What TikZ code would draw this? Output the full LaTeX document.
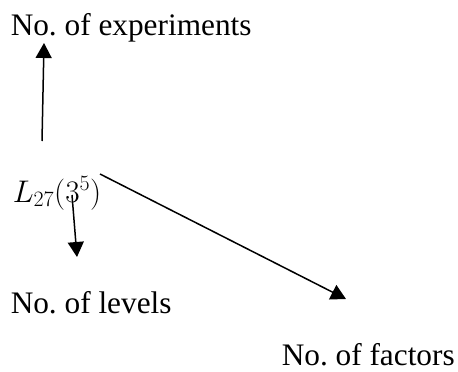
\documentclass[tikz,border=0pt]{standalone}
\usepackage{fix-cm}
\usepackage{fontspec}
\setmainfont{Liberation Serif}
\usetikzlibrary{arrows.meta}
\frenchspacing

\begin{document}
\begin{tikzpicture}[x=1pt, y=-1pt, line width=1.5pt,
    lbl/.style={anchor=base west, inner sep=0pt, font=\fontsize{31.3}{37}\selectfont},
    arr/.style={-{Triangle[length=15pt, width=16pt]}}]
    \useasboundingbox (0,0) rectangle (458,372);

    \node[lbl] (exp) at (10,35) {No. of experiments};
    \node[lbl] (orth) at (12,202) {$L_{27}(3^5)$};
    \node[lbl] (lvl) at (10,313) {No. of levels};
    \node[lbl] (fac) at (281,365) {No. of factors};

    \coordinate (up0) at (42,141);
    \coordinate (up1) at (44,43);
    \coordinate (dn0) at (72,195);
    \coordinate (dn1) at (77,257);
    \coordinate (dg0) at (100,174);
    \coordinate (dg1) at (346,299);

    \draw[arr] (up0) -- (up1);
    \draw[arr] (dn0) -- (dn1);
    \draw[arr] (dg0) -- (dg1);
\end{tikzpicture}
\end{document}
